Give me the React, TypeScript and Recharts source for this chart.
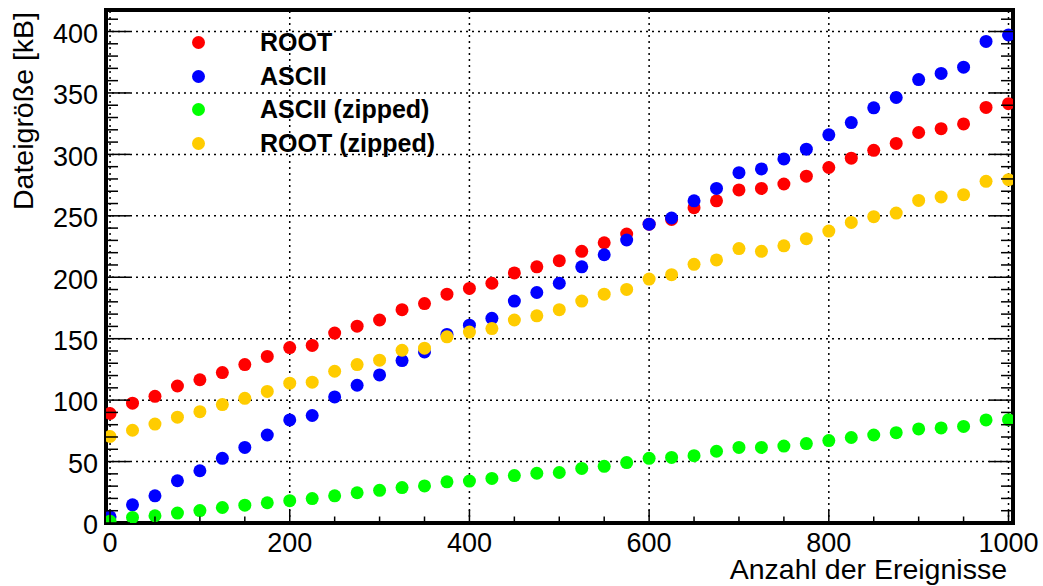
import React from 'react';
import { ScatterChart, Scatter, XAxis, YAxis, ReferenceLine, ReferenceArea, Legend } from 'recharts';

const FONT = '"Liberation Sans", Arial, Helvetica, sans-serif';

// ---------- data ----------
const events = [0, 25, 50, 75, 100, 125, 150, 175, 200, 225, 250, 275, 300, 325, 350, 375, 400, 425, 450, 475, 500,
  525, 550, 575, 600, 625, 650, 675, 700, 725, 750, 775, 800, 825, 850, 875, 900, 925, 950, 975, 1000];

const rootSize = [89.1, 97.5, 103.1, 111.5, 116.6, 122.4, 128.9, 135.6, 142.8, 144.5, 154.6, 160.2, 165.2, 173.6,
  178.6, 186.2, 190.9, 195.1, 203.5, 208.5, 213.5, 221.1, 228.1, 235.1, 243.2, 247.1, 256.6, 262.2, 271.1, 272.3,
  275.9, 282.3, 289.3, 296.9, 303.3, 308.9, 317.8, 320.9, 324.8, 338.2, 341.3];

const asciiSize = [5.0, 14.8, 22.1, 34.4, 42.5, 52.6, 61.5, 71.6, 83.9, 87.5, 102.6, 112.1, 120.5, 132.2, 139.2,
  153.5, 161.0, 166.6, 180.6, 187.6, 195.1, 208.5, 218.3, 230.3, 243.2, 248.2, 262.2, 272.3, 285.1, 288.2, 296.3,
  304.2, 315.9, 325.9, 337.9, 346.3, 360.9, 365.9, 371.0, 391.9, 397.2];

const asciiZippedSize = [1.4, 4.5, 5.9, 8.1, 10.1, 12.6, 14.5, 16.5, 18.2, 19.9, 22.1, 24.6, 26.6, 28.8, 30.2, 33.5,
  34.1, 36.3, 38.6, 40.5, 41.1, 44.4, 46.1, 49.2, 52.6, 53.4, 54.8, 58.4, 61.5, 61.5, 62.6, 64.6, 67.1, 69.6, 71.6,
  73.5, 76.6, 77.4, 78.6, 83.9, 84.1];

const rootZippedSize = [70.4, 75.5, 80.5, 86.1, 90.6, 96.4, 101.5, 107.1, 113.8, 114.6, 123.5, 128.9, 132.5, 140.6,
  142.3, 151.5, 155.4, 158.2, 165.2, 168.6, 173.6, 180.6, 186.2, 190.1, 198.5, 202.1, 210.5, 214.1, 223.3, 221.1,
  225.6, 231.4, 237.6, 244.6, 249.3, 252.2, 262.5, 265.3, 267.2, 278.1, 279.4];

const xTicks = [0, 50, 100, 150, 200, 250, 300, 350, 400, 450, 500, 550, 600, 650, 700, 750, 800, 850, 900, 950, 1000];
const xLabelTicks = [0, 200, 400, 600, 800, 1000];
const yTicks = [0, 10, 20, 30, 40, 50, 60, 70, 80, 90, 100, 110, 120, 130, 140, 150, 160, 170, 180, 190, 200, 210,
  220, 230, 240, 250, 260, 270, 280, 290, 300, 310, 320, 330, 340, 350, 360, 370, 380, 390, 400, 410];
const yLabelTicks = [0, 50, 100, 150, 200, 250, 300, 350, 400];
const xGrid = [0, 200, 400, 600, 800, 1000];
const yGrid = [50, 100, 150, 200, 250, 300, 350, 400];

const X_DOMAIN: [number, number] = [-4.5, 1005];
const Y_DOMAIN: [number, number] = [0, 417.5];

const series = [
  { name: 'ROOT', color: '#ff0000', values: rootSize },
  { name: 'ASCII', color: '#0000ff', values: asciiSize },
  { name: 'ASCII (zipped)', color: '#00ff00', values: asciiZippedSize },
  { name: 'ROOT (zipped)', color: '#ffcc00', values: rootZippedSize },
];

// ---------- style ----------
const X_MAJOR = 13, X_MINOR = 6.5, Y_MAJOR = 24, Y_MINOR = 12;
const TICK_FONT = 27;

const BottomTick = (p: any) => {
  const v = p.payload.value;
  const major = xLabelTicks.includes(v);
  return (
    <g>
      <line x1={p.x} y1={p.y} x2={p.x} y2={p.y - (major ? X_MAJOR : X_MINOR)} stroke="#000" strokeWidth={1.5} />
      {major && (
        <text x={p.x} y={p.y + 29} textAnchor="middle" fontSize={TICK_FONT} fontFamily={FONT} fill="#000">{v}</text>
      )}
    </g>
  );
};
const TopTick = (p: any) => {
  const v = p.payload.value;
  const major = xLabelTicks.includes(v);
  return <line x1={p.x} y1={p.y} x2={p.x} y2={p.y + (major ? X_MAJOR : X_MINOR)} stroke="#000" strokeWidth={1.5} />;
};
const LeftTick = (p: any) => {
  const v = p.payload.value;
  const major = yLabelTicks.includes(v);
  return (
    <g>
      <line x1={p.x} y1={p.y} x2={p.x + (major ? Y_MAJOR : Y_MINOR)} y2={p.y} stroke="#000" strokeWidth={1.5} />
      {major && (
        <text x={p.x - 8} y={p.y} dy="0.42em" textAnchor="end" fontSize={TICK_FONT} fontFamily={FONT} fill="#000">{v}</text>
      )}
    </g>
  );
};
const RightTick = (p: any) => {
  const v = p.payload.value;
  const major = yLabelTicks.includes(v);
  return <line x1={p.x} y1={p.y} x2={p.x - (major ? Y_MAJOR : Y_MINOR)} y2={p.y} stroke="#000" strokeWidth={1.5} />;
};

const makeDot = (color: string) => (p: any) => <circle cx={p.cx} cy={p.cy} r={6.5} fill={color} />;

const LegendContent = () => (
  <div style={{ fontFamily: FONT }}>
    {series.map((s) => (
      <div key={s.name} style={{ display: 'flex', alignItems: 'center', height: 33.5 }}>
        <span style={{ display: 'inline-block', width: 13, height: 13, borderRadius: '50%', background: s.color }} />
        <span style={{ marginLeft: 55.5, fontSize: 25, fontWeight: 'bold', color: '#000', whiteSpace: 'nowrap' }}>{s.name}</span>
      </div>
    ))}
  </div>
);

export default function App() {
  return (
    <div style={{ position: 'absolute', left: 0, top: 0, width: 1043, height: 586, background: '#fff' }}>
      <ScatterChart width={1043} height={586} margin={{ top: 9, right: 29, bottom: 62, left: 105 }}>
        <XAxis xAxisId={0} type="number" dataKey="x" domain={X_DOMAIN} allowDataOverflow ticks={xTicks} interval={0}
          height={1} tickSize={0} tickMargin={0} axisLine={false} tickLine={false} tick={BottomTick}
          label={{ content: () => (
            <text x={1007} y={579} textAnchor="end" fontSize={28.5} fontFamily={FONT} fill="#000">Anzahl der Ereignisse</text>
          ) }} />
        <XAxis xAxisId="top" orientation="top" type="number" domain={X_DOMAIN} allowDataOverflow ticks={xTicks}
          interval={0} height={1} tickSize={0} tickMargin={0} axisLine={false} tickLine={false} tick={TopTick} />
        <YAxis yAxisId={0} type="number" dataKey="y" domain={Y_DOMAIN} allowDataOverflow ticks={yTicks} interval={0}
          width={1} tickSize={0} tickMargin={0} axisLine={false} tickLine={false} tick={LeftTick}
          label={{ content: () => (
            <text transform="translate(33,12) rotate(-90)" textAnchor="end" fontSize={28.5} fontFamily={FONT} fill="#000">Dateigröße [kB]</text>
          ) }} />
        <YAxis yAxisId="right" orientation="right" type="number" domain={Y_DOMAIN} allowDataOverflow ticks={yTicks}
          interval={0} width={1} tickSize={0} tickMargin={0} axisLine={false} tickLine={false} tick={RightTick} />

        {xGrid.map((v) => (
          <ReferenceLine key={'gx' + v} x={v} stroke="#000" strokeWidth={1.5} strokeDasharray="2 4" />
        ))}
        {yGrid.map((v) => (
          <ReferenceLine key={'gy' + v} y={v} stroke="#000" strokeWidth={1.5} strokeDasharray="2 4" />
        ))}
        <ReferenceArea x1={X_DOMAIN[0]} x2={X_DOMAIN[1]} y1={Y_DOMAIN[0]} y2={Y_DOMAIN[1]} fill="none"
          fillOpacity={0} stroke="#000" strokeWidth={4} ifOverflow="visible" />

        <Legend layout="horizontal" verticalAlign="middle" align="center" content={LegendContent}
          wrapperStyle={{ position: 'absolute', left: 191.5, top: 26, width: 320 }} />

        {series.map((s) => (
          <Scatter key={s.name} name={s.name} fill={s.color}
            data={events.map((x, i) => ({ x, y: s.values[i] }))}
            shape={makeDot(s.color)} isAnimationActive={false} />
        ))}
      </ScatterChart>
    </div>
  );
}
